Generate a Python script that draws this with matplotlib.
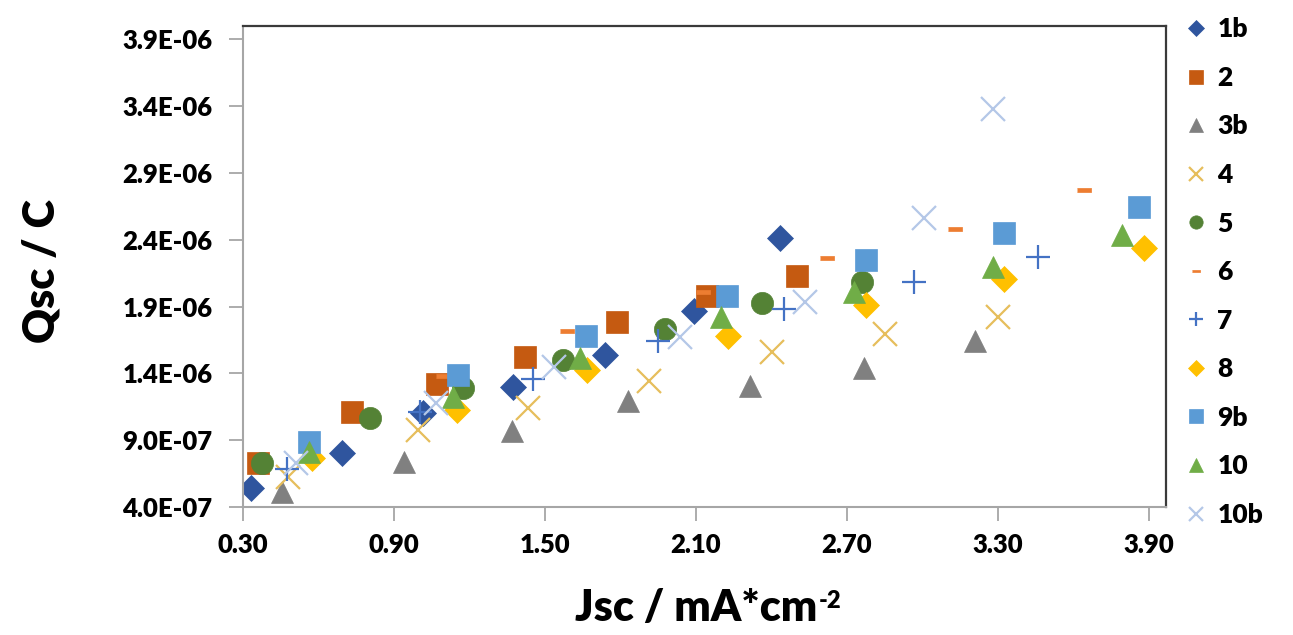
import numpy as np
import matplotlib
matplotlib.use("Agg")
import matplotlib.pyplot as plt
from matplotlib.ticker import FuncFormatter

plt.rcParams['font.family'] = ['Lato', 'DejaVu Sans']
plt.rcParams['font.weight'] = 'bold'

# --- Data (Jsc in mA/cm2, Qsc in C) ---
jsc_1b = [0.332, 0.694, 1.016, 1.374, 1.737, 2.091, 2.433]
qsc_1b = [0.542, 0.805, 1.105, 1.300, 1.540, 1.869, 2.417]

jsc_2 = [0.360, 0.734, 1.072, 1.422, 1.788, 2.146, 2.501]
qsc_2 = [0.730, 1.112, 1.322, 1.524, 1.787, 1.982, 2.132]

jsc_3b = [0.455, 0.941, 1.370, 1.832, 2.314, 2.767, 3.209]
qsc_3b = [0.512, 0.737, 0.970, 1.195, 1.307, 1.442, 1.644]

jsc_4 = [0.479, 0.996, 1.434, 1.912, 2.401, 2.851, 3.300]
qsc_4 = [0.625, 0.977, 1.142, 1.345, 1.562, 1.697, 1.824]

jsc_5 = [0.376, 0.805, 1.175, 1.573, 1.979, 2.361, 2.759]
qsc_5 = [0.730, 1.067, 1.292, 1.502, 1.734, 1.929, 2.087]

jsc_6 = [1.096, 1.589, 2.127, 2.620, 3.129, 3.643]
qsc_6 = [1.382, 1.719, 2.012, 2.267, 2.484, 2.769]

jsc_7 = [0.475, 1.004, 1.454, 1.951, 2.449, 2.966, 3.460]
qsc_7 = [0.685, 1.112, 1.360, 1.644, 1.884, 2.087, 2.274]

jsc_8 = [0.575, 1.152, 1.669, 2.226, 2.775, 3.324, 3.881]
qsc_8 = [0.767, 1.127, 1.427, 1.682, 1.914, 2.109, 2.342]

jsc_9b = [0.563, 1.156, 1.665, 2.222, 2.775, 3.324, 3.861]
qsc_9b = [0.887, 1.390, 1.682, 1.982, 2.252, 2.454, 2.649]

jsc_10 = [0.563, 1.136, 1.641, 2.198, 2.727, 3.281, 3.794]
qsc_10 = [0.812, 1.225, 1.517, 1.824, 2.012, 2.199, 2.439]

jsc_10b = [0.511, 1.068, 1.534, 2.035, 2.532, 3.006, 3.281]
qsc_10b = [0.730, 1.180, 1.449, 1.674, 1.937, 2.566, 3.376]

labels = ['1b', '2', '3b', '4', '5', '6', '7', '8', '9b', '10', '10b']
xs = [jsc_1b, jsc_2, jsc_3b, jsc_4, jsc_5, jsc_6, jsc_7, jsc_8, jsc_9b, jsc_10, jsc_10b]
ys = [qsc_1b, qsc_2, qsc_3b, qsc_4, qsc_5, qsc_6, qsc_7, qsc_8, qsc_9b, qsc_10, qsc_10b]

dash = [(-1.4, -0.45), (1.4, -0.45), (1.4, 0.45), (-1.4, 0.45)]
# (marker, size, colour, filled)
styles = [
    ('D', 13, '#2F559E', True),
    ('s', 16, '#C55A11', True),
    ('^', 16, '#808080', True),
    ('x', 17, '#E6BE5C', False),
    ('o', 16, '#548235', True),
    (dash, 10, '#ED7D31', True),
    ('+', 17, '#4472C4', False),
    ('D', 13, '#FFC000', True),
    ('s', 16, '#5B9BD5', True),
    ('^', 16, '#70AD47', True),
    ('x', 17, '#B4C7E7', False),
]

fig = plt.figure(figsize=(12.93, 6.35), dpi=100)
ax = fig.add_axes([0.188, 0.2016, 0.714, 0.7574])

for x, y, lab, (m, ms, c, filled) in zip(xs, ys, labels, styles):
    yv = np.array(y) * 1e-6
    if filled:
        ax.plot(x, yv, linestyle='none', marker=m, markersize=ms, color=c,
                markeredgecolor=c, markeredgewidth=0.5, label=lab)
    else:
        ax.plot(x, yv, linestyle='none', marker=m, markersize=ms, color=c,
                markeredgewidth=1.6, label=lab)

ax.set_xlim(0.3, 3.97)
ax.set_ylim(0.4e-6, 4.0e-6)
ax.set_xticks(np.arange(0.3, 3.91, 0.6))
ax.set_yticks(np.arange(0.4e-6, 3.91e-6, 0.5e-6))
ax.xaxis.set_major_formatter(FuncFormatter(lambda v, p: f'{v:.2f}'))
ax.yaxis.set_major_formatter(FuncFormatter(lambda v, p: f'{v:.1E}'))

ax.tick_params(axis='both', labelsize=18.5, length=10, width=1.3, color='#A6A6A6')
ax.tick_params(axis='y', pad=12)
ax.tick_params(axis='x', pad=9)
for lbl in ax.get_xticklabels() + ax.get_yticklabels():
    lbl.set_fontweight('heavy')

for side in ['left', 'bottom']:
    ax.spines[side].set_color('#A6A6A6')
    ax.spines[side].set_linewidth(1.5)
for side in ['top', 'right']:
    ax.spines[side].set_color('#3A3A3A')
    ax.spines[side].set_linewidth(1.6)

# x label with a small raised "-2" placed right after it
xlab = fig.text(0.0, 0.0, 'Jsc / mA*cm', fontsize=31, fontweight='heavy',
                ha='left', va='top')
fig.canvas.draw()
w = xlab.get_window_extent().width / fig.bbox.width
x0 = (0.188 + 0.714 * 0.502) - w / 2 - 0.008
xlab.set_position((x0, 1 - 588 / 635))
fig.text(x0 + w + 0.001, 1 - 590 / 635, '-2', fontsize=17, fontweight='heavy',
         ha='left', va='top')

ax.set_ylabel('Qsc / C', fontsize=31, fontweight='heavy')
ax.yaxis.set_label_coords(-0.197, 0.49)

leg = ax.legend(loc='upper left', bbox_to_anchor=(1.008, 1.04), frameon=False,
                markerscale=0.6, fontsize=19, handlelength=0.9, handletextpad=0.35,
                labelspacing=0.93, borderaxespad=0)
for t in leg.get_texts():
    t.set_fontweight('heavy')

fig.savefig('out.png', dpi=100)
